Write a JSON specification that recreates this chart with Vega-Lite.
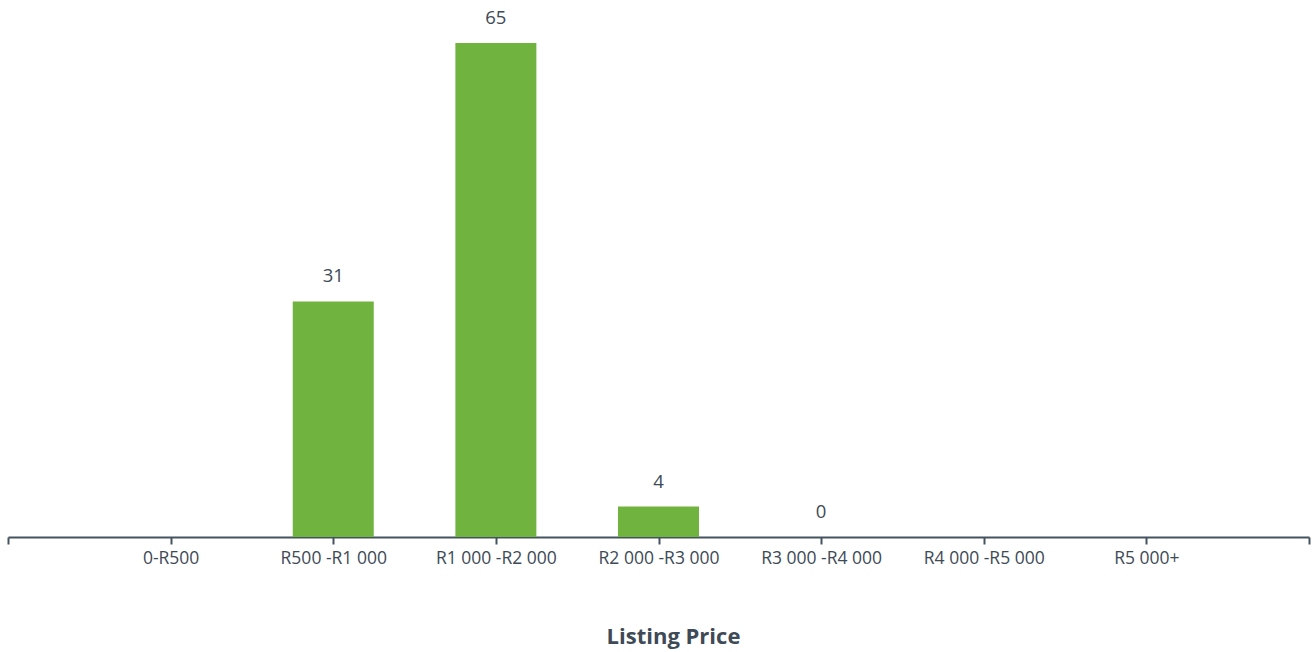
{
  "$schema": "https://vega.github.io/schema/vega-lite/v6.json",
  "width": 1301,
  "height": 532,
  "autosize": {"type": "none"},
  "padding": {"left": 8, "top": 5, "right": 3, "bottom": 115},
  "background": "white",
  "config": {"view": {"stroke": null}, "font": "Open Sans"},
  "data": {"values": [
    {"cat": "0-R500", "count": null},
    {"cat": "R500 -R1 000", "count": 31},
    {"cat": "R1 000 -R2 000", "count": 65},
    {"cat": "R2 000 -R3 000", "count": 4},
    {"cat": "R3 000 -R4 000", "count": 0},
    {"cat": "R4 000 -R5 000", "count": null},
    {"cat": "R5 000+", "count": null}
  ]},
  "encoding": {
    "x": {
      "field": "cat", "type": "ordinal",
      "scale": {"type": "point", "padding": 0, "domain": ["_start", "0-R500", "R500 -R1 000", "R1 000 -R2 000", "R2 000 -R3 000", "R3 000 -R4 000", "R4 000 -R5 000", "R5 000+", "_end"]},
      "axis": {
        "title": "Listing Price",
        "titleFont": "Open Sans", "titleFontSize": 22, "titleFontWeight": "bold", "titleColor": "#3e4a56", "titlePadding": 60, "titleX": 665,
        "labelExpr": "datum.value == '_start' || datum.value == '_end' ? '' : datum.value",
        "labelAngle": 0, "labelFont": "Open Sans", "labelFontSize": 17.5, "labelColor": "#3e4a56", "labelPadding": 5,
        "domainColor": "#44535f", "domainWidth": 2, "tickColor": "#44535f", "tickWidth": 2, "tickSize": 7,
        "grid": false
      }
    },
    "y": {
      "field": "count", "type": "quantitative",
      "scale": {"domain": [0, 70], "nice": false},
      "axis": null
    }
  },
  "layer": [
    {"mark": {"type": "bar", "width": 81, "color": "#70b33f"}},
    {"mark": {"type": "text", "dy": -25, "fontSize": 18.5, "color": "#3e4a56", "font": "Open Sans"},
     "encoding": {"text": {"field": "count", "type": "quantitative"}}}
  ]
}
